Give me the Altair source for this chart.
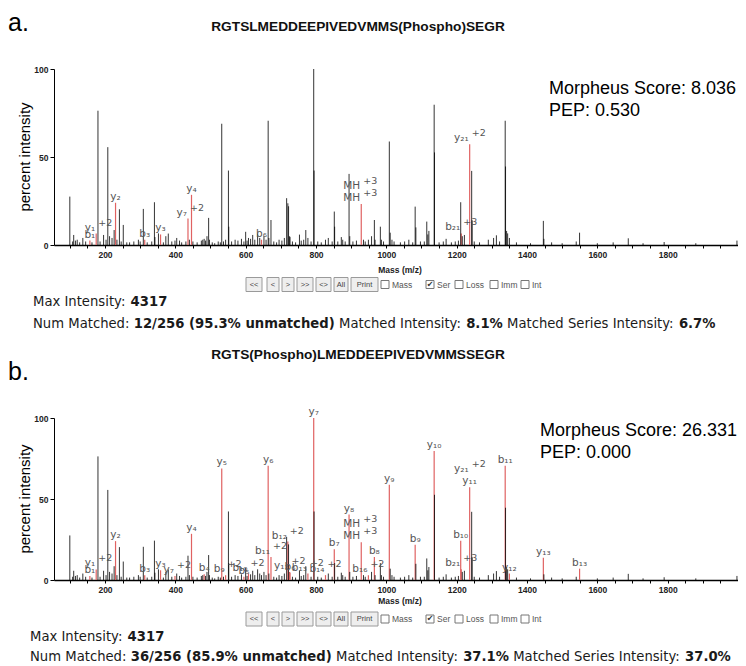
import altair as alt
import pandas as pd

# ---------------- data ----------------
spec_mz = [100, 108, 111, 116, 121, 128, 137, 145, 157, 163, 175, 180, 186, 196, 203, 208, 213, 220, 226, 230,
           234, 241, 246, 252, 262, 270, 282, 295, 300, 309, 313, 320, 333, 340.6, 342, 352, 358, 366, 373, 380,
           390, 399, 404, 412, 418, 430, 436, 440, 446, 450, 462, 474, 478, 482, 486, 490, 494.7, 497, 505, 512,
           522, 528, 532, 537, 543, 551, 552, 560, 570, 578, 588, 595, 600, 604, 608, 614, 620, 626, 634, 640,
           645, 652, 658, 664, 666, 672, 680, 688, 695, 703, 710, 716.5, 720, 722, 725, 726, 733, 742, 753, 758,
           765, 771, 777, 786, 793.5, 794.5, 805, 815, 827, 835, 846, 852, 853, 862, 872, 876, 883, 894, 896, 905,
           915, 928.7, 935, 940, 949, 958, 966, 968, 983, 986, 992, 1008.5, 1011, 1016, 1022, 1040, 1052, 1064, 1075, 1082,
           1084, 1097, 1108, 1115, 1118, 1121, 1136, 1137, 1150, 1162, 1170, 1185, 1196, 1205, 1211.5, 1213, 1216, 1222, 1237, 1242.7,
           1244, 1250, 1265, 1290, 1305, 1313, 1322, 1338, 1339, 1342, 1345, 1350, 1370, 1410, 1446.5, 1448, 1470, 1500, 1540, 1549.5,
           1600, 1645, 1688, 1730, 1790, 1880, 1997]
spec_int = [27.5, 2, 5.7, 2.5, 3, 1.5, 4, 2, 2.5, 1.5, 6.5, 76.3, 2, 5.7, 3, 55.6, 5, 4, 8.5, 24,
            3, 20.3, 2, 11.4, 1.5, 1.5, 2, 3, 2, 20.5, 3, 1.5, 2, 24.3, 4.5, 6.6, 6, 1.5, 5, 6.5,
            2, 2.5, 4, 2.5, 1.5, 2, 15, 3, 28.5, 2, 1.5, 2.5, 3, 3.5, 2.5, 5, 15.4, 3, 1.5, 1,
            2, 1.5, 68.9, 2, 3, 42.3, 10.4, 2, 3, 2.5, 3.5, 2, 7.5, 2.5, 4, 3.5, 5.7, 3, 6.6, 4,
            3, 5, 3, 70.6, 4, 14.2, 2, 1.5, 3, 2.5, 4, 26.6, 23.7, 22, 5, 4.5, 2, 1.5, 5.9, 2.5,
            3, 8.5, 4, 2, 100, 42.3, 2, 1.5, 3, 4, 2, 19, 10.4, 2, 4.5, 3, 2, 40.4, 5, 2,
            2.5, 23.3, 3, 2, 3, 5, 14.2, 3, 10.4, 3, 2, 58.8, 7, 3, 2, 1.5, 2, 3, 1.5, 21.8,
            10, 2, 2, 13.3, 6, 8, 79.7, 52.6, 1.5, 2, 3.5, 1.5, 2, 2.5, 24.3, 6.6, 5, 5.7, 57.3, 42.1,
            14, 2, 1.5, 3, 4, 5.5, 2, 70.6, 44.6, 8, 6.6, 4, 1.5, 1, 13.7, 3.5, 1.5, 1, 2, 7,
            1, 1.5, 3.8, 1, 1.7, 1, 2.5]

a_ion = ["b", "y", "y", "b", "y", "y", "y", "b", "MH", "MH", "b", "y"]
a_num = ["1", "1", "2", "3", "3", "7", "4", "6", "", "", "21", "21"]
a_charge = ["", "+2", "", "", "", "+2", "", "", "+3", "+3", "+3", "+2"]
a_mz = [157, 175, 230, 313, 358, 436, 446, 645, 928.7, 928.7, 1213, 1237]

b_ion = ["b", "y", "y", "b", "y", "y", "y", "b", "y", "b", "b", "b", "y", "b", "b", "y", "b", "b", "y",
         "b", "b", "y", "MH", "MH", "b", "b", "y", "b", "y", "b", "b", "y", "y", "b", "y", "y", "b"]
b_num = ["1", "1", "2", "3", "3", "7", "4", "4", "5", "9", "5", "10", "6", "11", "12", "13", "6", "13", "7",
         "14", "7", "8", "", "", "16", "8", "9", "9", "10", "10", "21", "11", "21", "11", "12", "13", "13"]
b_charge = ["", "+2", "", "", "", "+2", "", "", "", "+2", "", "+2", "", "+2", "+2", "+2", "", "+2", "",
            "+2", "", "", "+3", "+3", "+2", "", "", "", "", "", "+3", "", "+2", "", "", "", ""]
b_mz = [157, 175, 230, 313, 358, 399, 446, 482, 532, 543, 595, 608, 664, 672, 720, 725, 726, 777, 793.5,
        827, 852, 894, 928.7, 928.7, 949, 966, 1008.5, 1082, 1136, 1211.5, 1213, 1237, 1237, 1338, 1350, 1446.5, 1549.5]

a_sequence = "RGTSLMEDDEEPIVEDVMMS(Phospho)SEGR"
b_sequence = "RGTS(Phospho)LMEDDEEPIVEDVMMSSEGR"
a_score, a_pep = "8.036", "0.530"
b_score, b_pep = "26.331", "0.000"
max_intensity = "4317"
a_stats = ["12/256 (95.3% unmatched)", "8.1%", "6.7%"]
b_stats = ["36/256 (85.9% unmatched)", "37.1%", "37.0%"]
buttons = ["<<", "<", ">", ">>", "<>", "All", "Print"]
checks = ["Mass", "Ser", "Loss", "Imm", "Int"]
checked = ["Ser"]

# ---------------- styling / layout ----------------
W = 684
RED = "#e06262"
LABEL = "#555555"
SUB = str.maketrans("0123456789", "₀₁₂₃₄₅₆₇₈₉")
ONE = alt.Data(values=[{"k": 0}])

REG = {" ": .318, "%": .95, "(": .39, ")": .39, ".": .318, "/": .337, ":": .337, "I": .295, "M": .863,
       "N": .748, "S": .635, "a": .613, "c": .55, "d": .635, "e": .615, "h": .634, "i": .278, "m": .974,
       "n": .634, "r": .411, "s": .521, "t": .392, "u": .634, "x": .592, "y": .592, "l": .278}
BOLD = {" ": .348, "/": .365, "(": .456, ")": .456, ".": .38, "%": 1.002, "u": .712, "n": .712, "m": 1.042,
        "a": .675, "t": .478, "c": .593, "h": .712, "e": .678, "d": .716}


def text_w(s, bold, size):
    tab = BOLD if bold else REG
    dig = .696 if bold else .636
    return sum(dig if ch.isdigit() else tab.get(ch, .6) for ch in s) * size


def T(s, x, y, size, **kw):
    return alt.Chart(ONE).mark_text(text=s, fontSize=size, **kw).encode(x=alt.value(x), y=alt.value(y))


def R(x0, x1, y0, y1, **kw):
    return alt.Chart(ONE).mark_rect(**kw).encode(
        x=alt.value(x0), x2=alt.value(x1), y=alt.value(y0), y2=alt.value(y1))


def info_line(segs, x0, y, size=13.2):
    out = []
    x = x0
    for s, bold in segs:
        out.append(T(s, x, y, size, align="left", baseline="middle", font="DejaVu Sans",
                     fontWeight="bold" if bold else "normal", color="#1a1a1a"))
        x += text_w(s, bold, size) + REG[" "] * size
    return out


btn_x = [(192, 208), (213, 225), (228, 240), (243, 259), (262, 277), (280, 294), (297, 324)]
chk_x = [327, 372, 401, 436, 467]

xaxis = alt.Axis(values=list(range(100, 2000, 50)), labelExpr="datum.value % 200 == 0 ? datum.label : ''",
                 format="d", title=None, grid=False, tickSize=3, tickColor="#000", domainColor="#000",
                 domainWidth=1.5, labelFont="Liberation Sans", labelFontSize=8.5, labelFontWeight="bold",
                 labelColor="#222", labelPadding=2, labelFlush=False, labelOverlap=False)
yaxis = alt.Axis(values=[0, 50, 100], title=None, grid=False, tickSize=4, tickColor="#000", domainColor="#000",
                 labelFont="Liberation Sans", labelFontSize=8.5, labelFontWeight="bold", labelColor="#222",
                 labelPadding=2)


def panel(letter, seq, score, pep, ions, nums, charges, mzs, stats, h, g):
    spec = pd.DataFrame({"mz": spec_mz, "intensity": spec_int})
    spec["matched"] = spec["mz"].isin(set(mzs))
    ann = pd.DataFrame({"ion": ions, "num": nums, "charge": charges, "mz": mzs})
    ann = ann.merge(spec[["mz", "intensity"]], on="mz", how="left")
    ann["label"] = ann["ion"] + ann["num"].str.translate(SUB)
    ann["level"] = ann.groupby("mz").cumcount()

    xs = alt.Scale(domain=[55, 2000], nice=False, zero=False)
    ys = alt.Scale(domain=[0, 100], nice=False)
    X = alt.X("mz:Q", scale=xs, axis=xaxis)
    Y = alt.Y("intensity:Q", scale=ys, axis=yaxis)

    layers = [
        alt.Chart(spec[spec["matched"]]).mark_rule(color=RED, strokeWidth=1.2).encode(x=X, y=Y, y2=alt.datum(0)),
        alt.Chart(spec[~spec["matched"]]).mark_rule(color="#000", strokeWidth=1, opacity=0.8).encode(
            x=X, y=Y, y2=alt.datum(0)),
    ]
    for lev in (0, 1):
        sub = ann[ann["level"] == lev]
        plain = sub[sub["charge"] == ""]
        chg = sub[sub["charge"] != ""]
        layers.append(alt.Chart(plain).mark_text(font="DejaVu Sans", fontSize=10.5, color=LABEL,
                                                 baseline="bottom", dy=-1 - 12 * lev).encode(
            x=X, y=Y, text="label:N"))
        layers.append(alt.Chart(chg).mark_text(font="DejaVu Sans", fontSize=10.5, color=LABEL, align="right",
                                               baseline="bottom", dx=-1, dy=-1 - 12 * lev).encode(
            x=X, y=Y, text="label:N"))
        layers.append(alt.Chart(chg).mark_text(font="DejaVu Sans", fontSize=9.5, color=LABEL, align="left",
                                               baseline="bottom", dx=2, dy=-6 - 12 * lev).encode(
            x=X, y=Y, text="charge:N"))

    # texts
    layers += [
        T(letter, -46, -58, 25, align="left", baseline="top", font="Liberation Sans", color="#000"),
        T(seq, 304, g["seq_y"], 13.7, align="center", baseline="middle", font="Liberation Sans",
          fontWeight="bold", color="#111"),
        T("Morpheus Score: " + score, g["score_x"], g["score_y"], 18, align="left", baseline="middle",
          font="Liberation Sans", color="#000"),
        T("PEP: " + pep, g["score_x"], g["score_y"] + 22, 18, align="left", baseline="middle",
          font="Liberation Sans", color="#000"),
        T("percent intensity", -29, h / 2, 15, angle=270, align="center", baseline="middle",
          font="Liberation Sans", color="#000"),
        T("Mass (m/z)", 346, g["mass_y"], 8.5, align="center", baseline="middle", font="Liberation Sans",
          fontWeight="bold", color="#222"),
    ]
    # button row
    by = g["btn_y"]
    for (x0, x1), lab in zip(btn_x, buttons):
        layers.append(R(x0, x1, by - 7, by + 7, fill="#eeeeee", stroke="#9a9a9a", strokeWidth=1))
        layers.append(T(lab, (x0 + x1) / 2, by, 7.5, align="center", baseline="middle",
                        font="Liberation Sans", color="#444"))
    for x0, lab in zip(chk_x, checks):
        layers.append(R(x0, x0 + 8, by - 4, by + 4, fill="#ffffff", stroke="#777", strokeWidth=1))
        if lab in checked:
            layers.append(T("✔", x0 + 4, by, 8, align="center", baseline="middle", font="DejaVu Sans",
                            color="#333"))
        layers.append(T(lab, x0 + 11, by, 8.5, align="left", baseline="middle", font="Liberation Sans",
                        color="#555"))
    # info lines
    layers += info_line([("Max Intensity:", False), (max_intensity, True)], g["info_x"], g["max_y"])
    layers += info_line([("Num Matched:", False), (stats[0], True), ("Matched Intensity:", False),
                         (stats[1], True), ("Matched Series Intensity:", False), (stats[2], True)],
                        g["info_x"], g["num_y"])
    return alt.layer(*layers).properties(width=W, height=h)


ga = dict(seq_y=-42, score_x=495, score_y=20, mass_y=201, btn_y=215.5, max_y=233, num_y=255, info_x=-21)
gb = dict(seq_y=-63, score_x=486, score_y=13, mass_y=183, btn_y=201, max_y=219, num_y=239, info_x=-24)

pa = panel("a.", a_sequence, a_score, a_pep, a_ion, a_num, a_charge, a_mz, a_stats, 176, ga)
pb = panel("b.", b_sequence, b_score, b_pep, b_ion, b_num, b_charge, b_mz, b_stats, 162, gb)

chart = alt.vconcat(pa, pb, spacing=173, bounds="flush",
                    padding={"left": 0, "top": 3, "right": 0, "bottom": 0}).configure_view(stroke=None)
chart.save("out.html", embed_options={"renderer": "svg", "actions": False})
